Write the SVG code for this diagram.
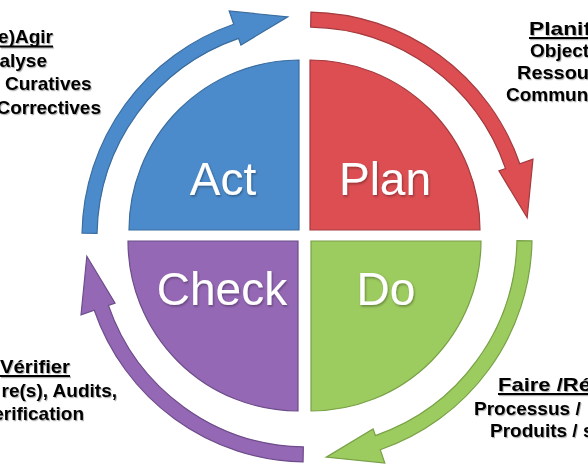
<svg xmlns="http://www.w3.org/2000/svg" width="588" height="476" viewBox="0 0 588 476">
<defs>
<filter id="sh" x="-10%" y="-10%" width="130%" height="140%">
<feDropShadow dx="1" dy="1.5" stdDeviation="0.8" flood-color="#000" flood-opacity="0.35"/>
</filter>
<filter id="sh2" x="-10%" y="-20%" width="130%" height="150%">
<feDropShadow dx="1" dy="1.2" stdDeviation="0.7" flood-color="#000" flood-opacity="0.3"/>
</filter>
<path id="arw" d="M 310.93 12.03 A 225 225 0 0 1 519.74 163.75 L 532.98 159.19 L 527.16 217.74 L 498.94 170.91 L 505.56 168.63 A 210 210 0 0 0 310.66 27.03 Z"/>
</defs>
<style>
.q{stroke-width:1.2}
.blue{fill:#4c8bcb;stroke:#3a6c9e}
.red{fill:#dc4e52;stroke:#a33a3e}
.green{fill:#9ccb5f;stroke:#78a046}
.purple{fill:#9568b5;stroke:#6d4c8a}
.big{font-family:"Liberation Sans",Arial,sans-serif;font-size:46px;fill:#fff;text-anchor:middle;filter:url(#sh)}
.lab{font-family:"Liberation Sans",Arial,sans-serif;font-size:19px;font-weight:bold;fill:#000;filter:url(#sh2)}
.ul{stroke:#000;stroke-width:2}
</style>
<rect width="588" height="476" fill="#fff"/>
<g id="connectors" class="q">
<use href="#arw" class="red"/>
<use href="#arw" class="green" transform="rotate(90 307 237)"/>
<use href="#arw" class="purple" transform="rotate(180 307 237)"/>
<use href="#arw" class="blue" transform="rotate(270 307 237)"/>
</g>
<g id="act">
<path class="q blue" d="M299,230 L129,230 A170,170 0 0 1 299,60 Z"/>
<text class="big" x="223" y="195">Act</text>
</g>
<g id="plan">
<path class="q red" d="M310,230 L310,60 A170,170 0 0 1 480,230 Z"/>
<text class="big" x="385" y="195">Plan</text>
</g>
<g id="check">
<path class="q purple" d="M298,241 L298,411 A170,170 0 0 1 128,241 Z"/>
<text class="big" x="222" y="305">Check</text>
</g>
<g id="do">
<path class="q green" d="M311,241 L481,241 A170,170 0 0 1 311,411 Z"/>
<text class="big" x="386" y="305">Do</text>
</g>
<g id="label-agir" class="lab">
<text x="53" y="43" text-anchor="end">e)Agir</text>
<line class="ul" x1="0" y1="46.5" x2="53" y2="46.5"/>
<text x="47" y="67" text-anchor="end">alyse</text>
<text x="5" y="90">Curatives</text>
<text x="101" y="114" text-anchor="end">Correctives</text>
</g>
<g id="label-planif" class="lab">
<text x="529" y="35" textLength="62" lengthAdjust="spacingAndGlyphs">Planif</text>
<line class="ul" x1="529" y1="38" x2="588" y2="38"/>
<text x="530" y="57">Object</text>
<text x="517" y="79" textLength="72" lengthAdjust="spacingAndGlyphs">Ressou</text>
<text x="506" y="101">Commun</text>
</g>
<g id="label-verifier" class="lab">
<text x="0" y="373" textLength="70" lengthAdjust="spacingAndGlyphs">Vérifier</text>
<line class="ul" x1="0" y1="376" x2="70" y2="376"/>
<text x="117" y="397" text-anchor="end">re(s), Audits,</text>
<text x="84" y="420" text-anchor="end">erification</text>
</g>
<g id="label-faire" class="lab">
<text x="498" y="391" textLength="93" lengthAdjust="spacingAndGlyphs">Faire /Ré</text>
<line class="ul" x1="498" y1="394" x2="588" y2="394"/>
<text x="474" y="415">Processus /</text>
<text x="490" y="437">Produits / s</text>
</g>
</svg>
